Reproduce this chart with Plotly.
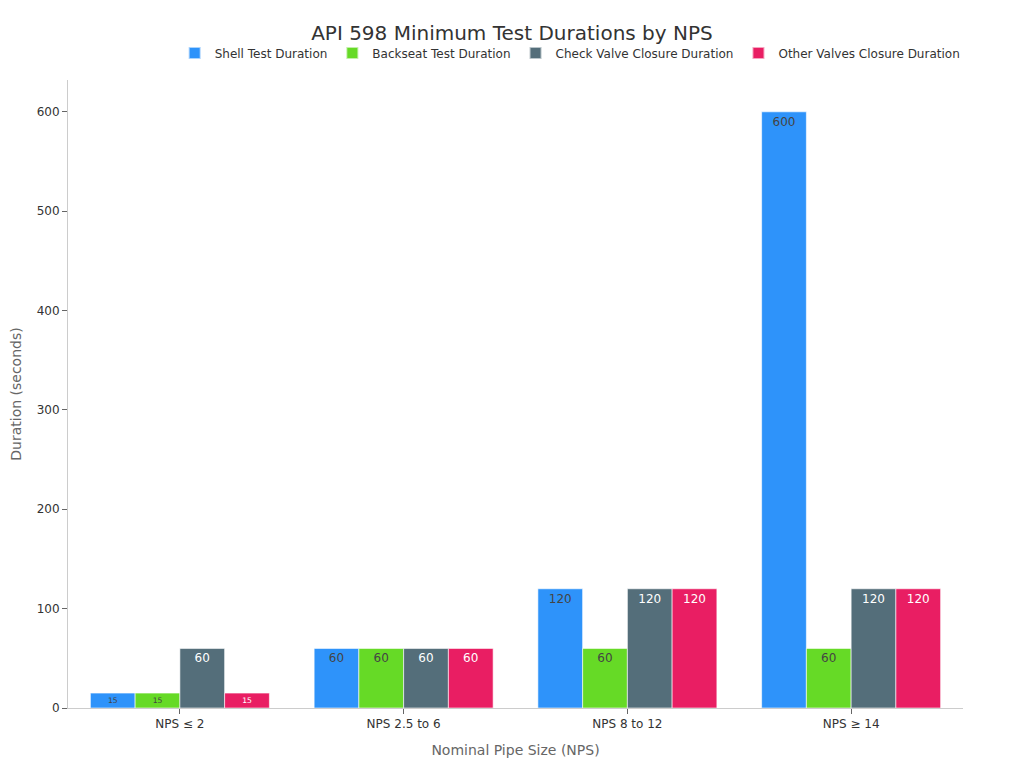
import plotly.graph_objects as go

categories = ["NPS ≤ 2", "NPS 2.5 to 6", "NPS 8 to 12", "NPS ≥ 14"]
series_names = ["Shell Test Duration", "Backseat Test Duration",
                "Check Valve Closure Duration", "Other Valves Closure Duration"]
shell = [15, 60, 120, 600]
backseat = [15, 60, 60, 60]
check_valve = [60, 60, 120, 120]
other_valves = [15, 60, 120, 120]
colors = ["#2E93FA", "#66DA26", "#546E7A", "#E91E63"]

fig = go.Figure()
for name, vals, col in zip(series_names, [shell, backseat, check_valve, other_valves], colors):
    fig.add_trace(go.Bar(
        name=name, x=categories, y=vals,
        marker=dict(color=col, line=dict(color="rgba(255,255,255,0.6)", width=1)),
        text=vals, textposition="inside", insidetextanchor="end",
        textfont=dict(size=12),
    ))

fig.update_layout(
    barmode="group", bargap=0.2, bargroupgap=0,
    width=1016, height=760,
    paper_bgcolor="white", plot_bgcolor="white",
    font=dict(family="DejaVu Sans, sans-serif", size=12, color="#333"),
    title=dict(text="API 598 Minimum Test Durations by NPS", x=0.496, xanchor="center",
               y=1 - 25 / 760, yanchor="middle", font=dict(size=20, color="#333")),
    legend=dict(orientation="h", x=1.003, xanchor="right", y=1 + 27 / 628, yanchor="middle",
                font=dict(size=12, color="#333"), itemsizing="constant"),
    margin=dict(l=60, r=61, t=72, b=60),
    xaxis=dict(title=dict(text="Nominal Pipe Size (NPS)", font=dict(size=14, color="#666"), standoff=14),
               automargin=False,
               showline=True, linecolor="#ccc", ticks="outside", tickcolor="#666", ticklen=5,
               showgrid=False),
    yaxis=dict(title=dict(text="Duration (seconds)", font=dict(size=14, color="#666"), standoff=14),
               automargin=False,
               showline=True, linecolor="#ccc", ticks="outside", tickcolor="#666", ticklen=5,
               showgrid=False, zeroline=False, range=[0, 632], dtick=100),
)

fig.write_html("out.html")
